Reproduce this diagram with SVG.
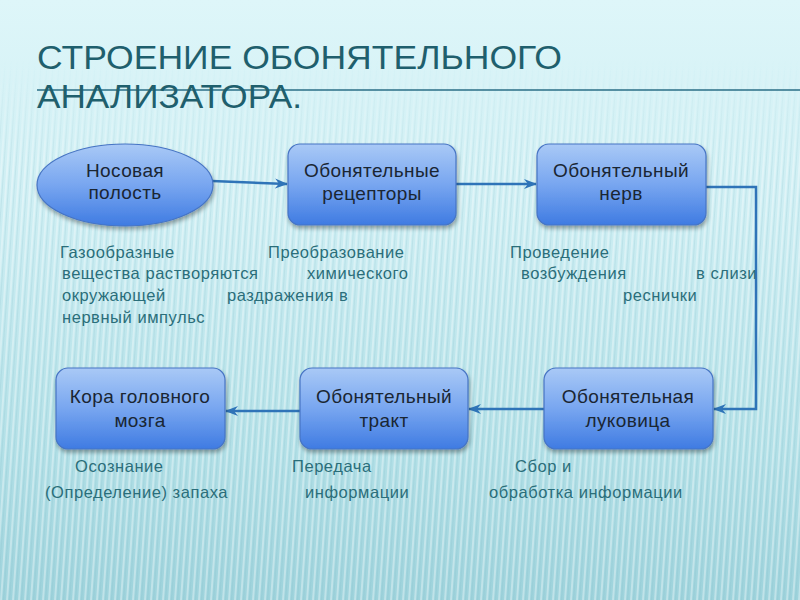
<svg xmlns="http://www.w3.org/2000/svg" width="800" height="600" viewBox="0 0 800 600">
<defs>
<linearGradient id="bg" x1="0" y1="0" x2="0" y2="1">
<stop offset="0" stop-color="#def6f9"/>
<stop offset="0.35" stop-color="#cdeef3"/>
<stop offset="0.75" stop-color="#b2e0e7"/>
<stop offset="1" stop-color="#9ed3dc"/>
</linearGradient>
<pattern id="stripes" width="6" height="600" patternUnits="userSpaceOnUse" patternTransform="skewX(-4)">
<rect x="0" y="0" width="2" height="600" fill="#ffffff" opacity="0.35"/>
<rect x="3" y="0" width="1" height="600" fill="#7fb9c4" opacity="0.18"/>
</pattern>
<linearGradient id="fade" x1="0" y1="0" x2="0" y2="1">
<stop offset="0" stop-color="#fff" stop-opacity="0"/>
<stop offset="0.2" stop-color="#fff" stop-opacity="1"/>
<stop offset="1" stop-color="#fff" stop-opacity="1"/>
</linearGradient>
<mask id="m"><rect x="0" y="60" width="800" height="540" fill="url(#fade)"/></mask>
<linearGradient id="box" x1="0" y1="0" x2="0" y2="1">
<stop offset="0" stop-color="#a9c9f6"/>
<stop offset="0.5" stop-color="#78a6f0"/>
<stop offset="1" stop-color="#3f7be2"/>
</linearGradient>
<filter id="sh" x="-10%" y="-10%" width="125%" height="135%">
<feGaussianBlur in="SourceAlpha" stdDeviation="2"/>
<feOffset dx="1" dy="3" result="b"/>
<feComponentTransfer><feFuncA type="linear" slope="0.35"/></feComponentTransfer>
<feMerge><feMergeNode/><feMergeNode in="SourceGraphic"/></feMerge>
</filter>
<marker id="arr" markerUnits="userSpaceOnUse" markerWidth="14" markerHeight="12" refX="12" refY="6" orient="auto">
<path d="M0,1 L13,6 L0,11 L4,6 Z" fill="#2f74b8"/>
</marker>
<style>
.node rect, .node ellipse { fill: url(#box); stroke: #4674c4; stroke-width: 1.2; filter: url(#sh); }
.nt { font-family: "Liberation Sans", Arial, sans-serif; font-size: 19px; letter-spacing: 0.4px; fill: #1a2633; text-anchor: middle; }
.d { font-family: "Liberation Sans", Arial, sans-serif; font-size: 16.5px; letter-spacing: 0.55px; fill: #2a6e7a; }
.t { font-family: "Liberation Sans", Arial, sans-serif; font-size: 33px; fill: #1f5f6d; }
.c { fill: none; stroke: #2f74b8; stroke-width: 2.5; marker-end: url(#arr); }
</style>
</defs>
<rect width="800" height="600" fill="url(#bg)"/>
<rect width="800" height="600" fill="url(#stripes)" mask="url(#m)"/>

<g id="title">
<text class="t" x="37" y="69" textLength="525" lengthAdjust="spacingAndGlyphs">СТРОЕНИЕ ОБОНЯТЕЛЬНОГО</text>
<line x1="37" y1="90" x2="800" y2="90" stroke="#2a6e86" stroke-width="1.5"/>
<text class="t" x="37" y="108" textLength="265" lengthAdjust="spacingAndGlyphs">АНАЛИЗАТОРА.</text>
</g>

<g id="connectors">
<path class="c" d="M212,181 L287,184"/>
<path class="c" d="M456,184 L536,184"/>
<path class="c" d="M706,187 L756,187 L756,409 L714,409"/>
<path class="c" d="M544,409 L469,409"/>
<path class="c" d="M300,411 L226,411"/>
</g>

<g id="n1" class="node">
<ellipse cx="125" cy="185" rx="88" ry="41"/>
<text class="nt" x="125" y="177">Носовая</text>
<text class="nt" x="125" y="199">полость</text>
</g>
<g id="n2" class="node">
<rect x="288" y="144" width="168" height="81" rx="12"/>
<text class="nt" x="372" y="177">Обонятельные</text>
<text class="nt" x="372" y="200">рецепторы</text>
</g>
<g id="n3" class="node">
<rect x="537" y="144" width="169" height="81" rx="12"/>
<text class="nt" x="621" y="177">Обонятельный</text>
<text class="nt" x="621" y="200">нерв</text>
</g>
<g id="n4" class="node">
<rect x="544" y="368" width="169" height="81" rx="12"/>
<text class="nt" x="628" y="403">Обонятельная</text>
<text class="nt" x="628" y="427">луковица</text>
</g>
<g id="n5" class="node">
<rect x="300" y="368" width="168" height="81" rx="12"/>
<text class="nt" x="384" y="403">Обонятельный</text>
<text class="nt" x="384" y="427">тракт</text>
</g>
<g id="n6" class="node">
<rect x="56" y="368" width="169" height="81" rx="12"/>
<text class="nt" x="140" y="403">Кора головного</text>
<text class="nt" x="140" y="427">мозга</text>
</g>

<g id="labels">
<text class="d" x="60" y="258">Газообразные</text>
<text class="d" x="62" y="279">вещества растворяются</text>
<text class="d" x="62" y="301">окружающей</text>
<text class="d" x="62" y="323">нервный импульс</text>
<text class="d" x="268" y="258">Преобразование</text>
<text class="d" x="307" y="279">химического</text>
<text class="d" x="227" y="301">раздражения в</text>
<text class="d" x="510" y="258">Проведение</text>
<text class="d" x="521" y="279">возбуждения</text>
<text class="d" x="696" y="279">в слизи</text>
<text class="d" x="623" y="301">реснички</text>
<text class="d" x="75" y="472">Осознание</text>
<text class="d" x="45" y="498">(Определение) запаха</text>
<text class="d" x="292" y="472">Передача</text>
<text class="d" x="305" y="498">информации</text>
<text class="d" x="515" y="472">Сбор и</text>
<text class="d" x="489" y="498">обработка информации</text>
</g>
</svg>
